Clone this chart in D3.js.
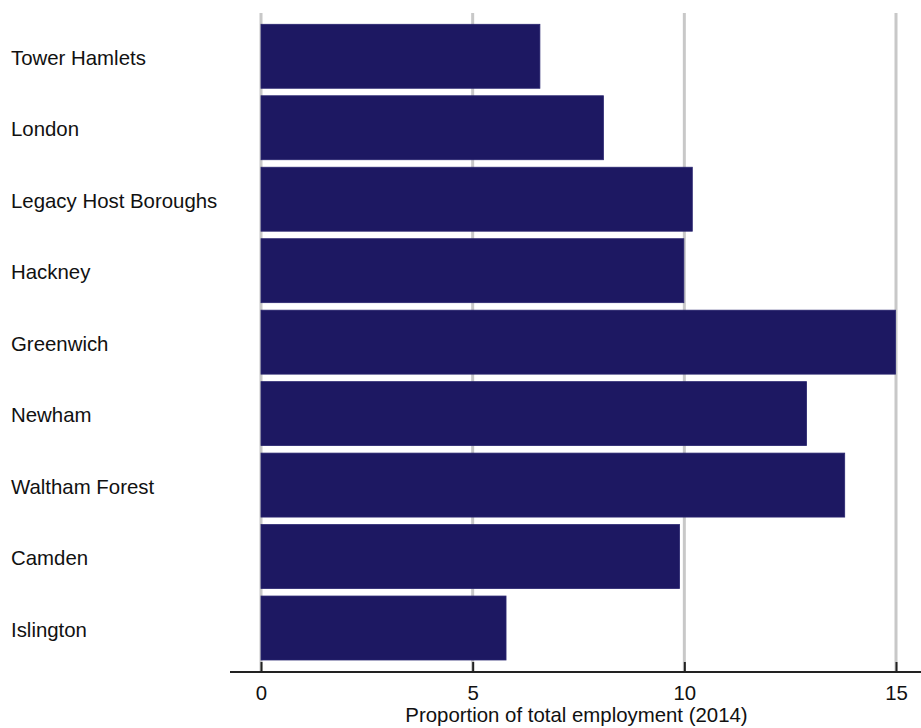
<!DOCTYPE html>
<html><head><meta charset="utf-8">
<script src="https://cdn.jsdelivr.net/npm/d3@7"></script>
<style>body{margin:0;background:#fff}svg{display:block}text{font-family:"Liberation Sans",Arial,sans-serif;fill:#111}</style>
</head><body>
<svg id="c" width="921" height="728"></svg>
<script>
const categories = ["Tower Hamlets","London","Legacy Host Boroughs","Hackney","Greenwich","Newham","Waltham Forest","Camden","Islington"];
const values = [6.6, 8.1, 10.2, 10.0, 15.0, 12.9, 13.8, 9.9, 5.8];
const tickValues = [0, 5, 10, 15];
const axisTitle = "Proportion of total employment (2014)";

const svg = d3.select("#c");
const x = d3.scaleLinear().domain([0, 15]).range([261, 896]);
const y = d3.scaleBand().domain(categories).range([24.3, 660]).paddingInner(0.105).paddingOuter(0);
const axisY = 672;
const fs = 20.4;

// gridlines
svg.append("g").selectAll("line").data(tickValues).join("line")
  .attr("x1", d => x(d)).attr("x2", d => x(d))
  .attr("y1", 13).attr("y2", axisY)
  .attr("stroke", "#c8c8c8").attr("stroke-width", 3);

// bars
svg.append("g").selectAll("rect").data(categories).join("rect")
  .attr("x", x(0)).attr("y", d => y(d))
  .attr("width", (d, i) => x(values[i]) - x(0) - 0.5)
  .attr("height", y.bandwidth())
  .attr("fill", "#1d1862").attr("stroke", "#2a2670").attr("stroke-width", 0.8);

// category labels
svg.append("g").selectAll("text").data(categories).join("text")
  .attr("x", 11).attr("y", d => y(d) + y.bandwidth() / 2 + 8.5)
  .attr("font-size", fs).text(d => d);

// x axis
const axis = d3.axisBottom(x).tickValues(tickValues).tickSize(0).tickPadding(0).tickFormat(d3.format("d"));
const ag = svg.append("g").attr("transform", `translate(0,${axisY})`).call(axis);
ag.select(".domain").remove();
ag.selectAll(".tick text").attr("font-size", fs).attr("font-family", '"Liberation Sans",Arial,sans-serif')
  .attr("fill", "#111").attr("y", 28).attr("dy", 0);
ag.selectAll(".tick").append("line").attr("y1", -10).attr("y2", 0).attr("stroke", "#222").attr("stroke-width", 2);
ag.append("line").attr("x1", 230).attr("x2", 921).attr("y1", 0).attr("y2", 0).attr("stroke", "#222").attr("stroke-width", 2);

svg.append("text").attr("x", 576.5).attr("y", 722).attr("text-anchor", "middle")
  .attr("font-size", fs).text(axisTitle);
</script>
</body></html>
